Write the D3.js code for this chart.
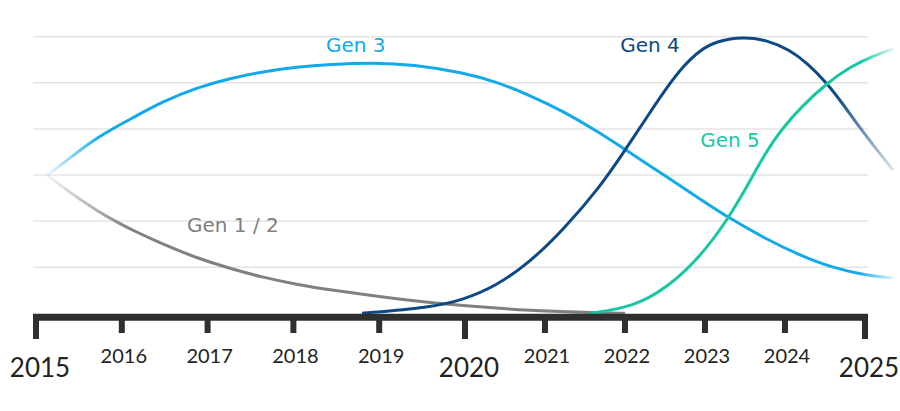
<!DOCTYPE html>
<html><head><meta charset="utf-8">
<script src="https://cdn.jsdelivr.net/npm/d3@7"></script>
<style>html,body{margin:0;padding:0;background:#fff;}svg{display:block;}</style>
</head><body>
<svg id="chart" width="900" height="411"></svg>
<script>
// ---- data ----
const years = [2015,2016,2017,2018,2019,2020,2021,2022,2023,2024,2025];
const majorYears = [2015,2020,2025];
const gridValues = [1,2,3,4,5,6];

const gen12 = [[2015.128,3.0],[2015.318,2.729],[2015.513,2.469],[2015.708,2.23],[2015.921,2.002],[2016.096,1.829],[2016.484,1.492],[2016.873,1.2],[2017.261,0.972],[2017.649,0.777],[2018.038,0.625],[2018.427,0.505],[2019.204,0.31],[2019.977,0.158],[2020.81,0.061],[2021.69,0.007],[2022.0,0.0]];
const gen3 = [[2015.128,3.0],[2015.318,3.254],[2015.513,3.542],[2015.708,3.796],[2015.901,4.013],[2016.096,4.208],[2016.484,4.601],[2016.873,4.892],[2017.261,5.098],[2017.649,5.243],[2018.038,5.345],[2018.427,5.403],[2018.928,5.44],[2019.394,5.397],[2019.977,5.223],[2020.4,5.017],[2020.813,4.725],[2021.225,4.388],[2021.688,3.911],[2022.0,3.553],[2022.525,2.957],[2022.938,2.479],[2023.288,2.078],[2023.775,1.601],[2024.188,1.254],[2024.6,0.983],[2025.025,0.82],[2025.35,0.766]];
const gen4 = [[2018.8,0.0],[2019.592,0.126],[2019.977,0.289],[2020.4,0.603],[2020.813,1.113],[2021.225,1.807],[2021.688,2.739],[2022.0,3.536],[2022.313,4.36],[2022.525,4.903],[2022.725,5.358],[2022.938,5.712],[2023.15,5.907],[2023.475,6.0],[2023.775,5.928],[2024.063,5.711],[2024.275,5.43],[2024.525,4.996],[2024.725,4.54],[2024.938,4.02],[2025.15,3.542],[2025.35,3.108]];
const gen5 = [[2021.563,0.0],[2022.1,0.137],[2022.525,0.549],[2022.938,1.221],[2023.288,2.039],[2023.563,2.87],[2023.775,3.542],[2023.963,3.998],[2024.188,4.453],[2024.525,4.996],[2024.813,5.343],[2025.1,5.581],[2025.35,5.733]];

const seriesNames = ["Gen 1 / 2","Gen 3","Gen 4","Gen 5"];
const seriesColors = ["#808080","#12a9ea","#0c4985","#17c7a2"];
const seriesData = [gen12, gen3, gen4, gen5];
// label anchor positions in data units [year, value]
const labelPos = [[2016.76,1.77],[2018.38,5.67],[2021.94,5.67],[2022.94,3.6]];

// ---- scales ----
const svg = d3.select("#chart");
const x = d3.scaleLinear().domain([2015,2020,2025]).range([36,465,865]);
const y = d3.scaleLinear().domain([0,6]).range([313.3,36.7]);
const font = "Lato, 'Open Sans', sans-serif";
const labelFont = "'DejaVu Sans', sans-serif";

// gridlines
svg.append("g").selectAll("line").data(gridValues).join("line")
  .attr("x1", x(2015)-3).attr("x2", x(2025)+3)
  .attr("y1", d=>y(d)).attr("y2", d=>y(d))
  .attr("stroke","#e4e4e4").attr("stroke-width",1.5);

// gradients
const defs = svg.append("defs");
const xa = x(2015.128), xb = x(2025.35);
function off(yr){ return (x(yr)-xa)/(xb-xa); }
const gradStops = [
  [[off(2015.128),0.08],[off(2016.1),1],[off(2025.35),1]],
  [[off(2015.128),0.06],[off(2015.75),1],[off(2024.9),1],[off(2025.35),0.15]],
  [[off(2015.128),1],[off(2024.65),1],[off(2025.35),0.15]],
  [[off(2015.128),1],[off(2024.95),1],[off(2025.35),0.15]]
];
seriesColors.forEach((c,i)=>{
  const g = defs.append("linearGradient").attr("id","g"+i)
    .attr("gradientUnits","userSpaceOnUse")
    .attr("x1",xa).attr("x2",xb).attr("y1",0).attr("y2",0);
  gradStops[i].forEach(s=>g.append("stop").attr("offset",s[0]).attr("stop-color",c).attr("stop-opacity",s[1]));
});

// lines
const line = d3.line().x(d=>x(d[0])).y(d=>y(d[1])).curve(d3.curveBasis);
svg.append("g").selectAll("path").data(seriesData).join("path")
  .attr("d", line).attr("fill","none")
  .attr("stroke",(d,i)=>"url(#g"+i+")").attr("stroke-width",3);

// series labels
svg.append("g").selectAll("text").data(seriesNames).join("text")
  .attr("x",(d,i)=>x(labelPos[i][0])).attr("y",(d,i)=>y(labelPos[i][1]))
  .attr("fill",(d,i)=>seriesColors[i])
  .attr("font-family",labelFont).attr("font-size",20)
  .text(d=>d);

// axis
const axis = svg.append("g");
axis.append("line").attr("x1",x(2015)-3).attr("x2",x(2025)+3)
  .attr("y1",317.3).attr("y2",317.3).attr("stroke","#2f2f2f").attr("stroke-width",7);
axis.selectAll("line.tick").data(years).join("line").attr("class","tick")
  .attr("x1",d=>x(d)).attr("x2",d=>x(d))
  .attr("y1",317).attr("y2",d=>majorYears.includes(d)?339:333)
  .attr("stroke","#2f2f2f").attr("stroke-width",6);
axis.selectAll("text").data(years).join("text")
  .attr("x",d=>x(d)+(majorYears.includes(d)?4:2))
  .attr("y",d=>majorYears.includes(d)?377:363)
  .attr("text-anchor","middle")
  .attr("font-family",font)
  .attr("font-size",d=>majorYears.includes(d)?26:20)
  .attr("fill","#222")
  .text(d=>d);
</script>
</body></html>
